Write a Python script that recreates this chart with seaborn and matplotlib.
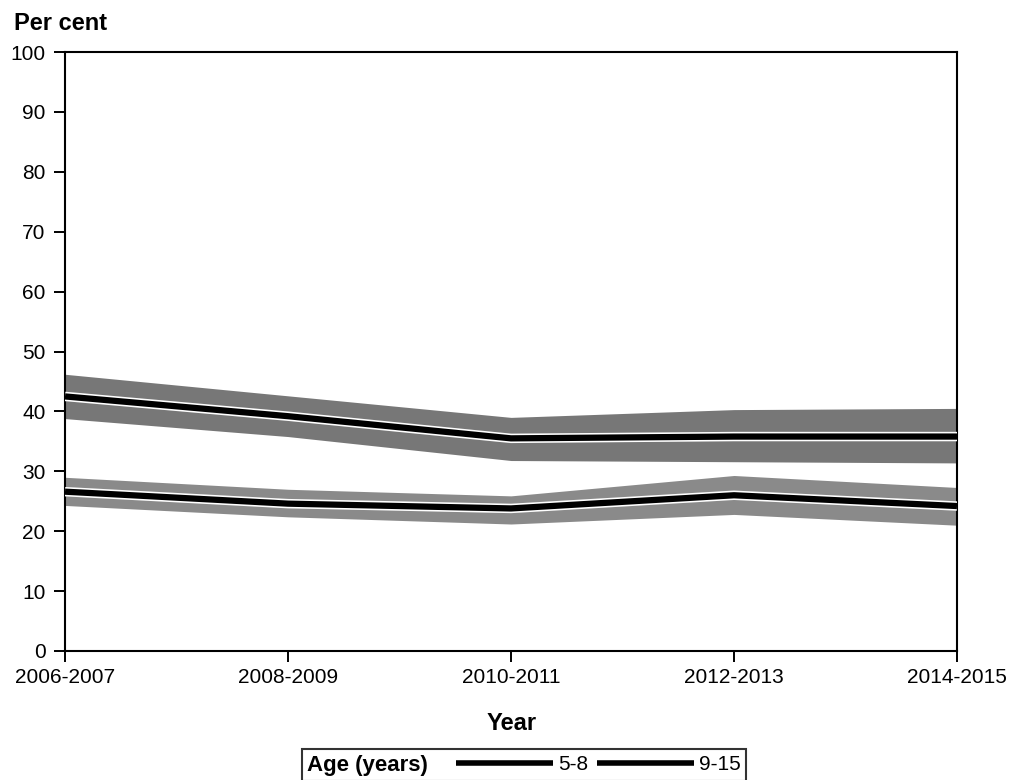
import matplotlib
matplotlib.use("Agg")
import matplotlib.pyplot as plt
import matplotlib.patheffects as pe
from matplotlib.lines import Line2D
from matplotlib.offsetbox import HPacker
import seaborn as sns
import pandas as pd

years = ["2006-2007", "2008-2009", "2010-2011", "2012-2013", "2014-2015"]
age_5_8 = [42.5, 39.2, 35.5, 35.8, 35.8]
age_5_8_low = [38.8, 35.8, 31.8, 31.6, 31.4]
age_5_8_high = [46.2, 42.6, 39.0, 40.3, 40.5]
age_9_15 = [26.6, 24.6, 23.8, 26.0, 24.2]
age_9_15_low = [24.3, 22.4, 21.2, 22.8, 21.0]
age_9_15_high = [29.0, 27.0, 25.9, 29.3, 27.3]
yticks = [0, 10, 20, 30, 40, 50, 60, 70, 80, 90, 100]

sns.set_theme(style="ticks")
plt.rcParams["font.family"] = ["Liberation Sans", "DejaVu Sans"]
plt.rcParams["text.color"] = "black"
plt.rcParams["xtick.color"] = "black"
plt.rcParams["ytick.color"] = "black"
plt.rcParams["xtick.labelcolor"] = "black"
plt.rcParams["ytick.labelcolor"] = "black"

df = pd.DataFrame({
    "x": list(range(len(years))) * 2,
    "value": age_5_8 + age_9_15,
    "Age": ["5-8"] * len(years) + ["9-15"] * len(years),
})

fig = plt.figure(figsize=(10.16, 7.8), dpi=100)
L, R, T, B = 65, 957, 52, 651
ax = fig.add_axes([L / 1016, 1 - B / 780, (R - L) / 1016, (B - T) / 780])

xs = list(range(len(years)))
ax.fill_between(xs, age_5_8_low, age_5_8_high, color="#777777", linewidth=0, zorder=1)
ax.fill_between(xs, age_9_15_low, age_9_15_high, color="#8a8a8a", linewidth=0, zorder=1)

sns.lineplot(data=df, x="x", y="value", hue="Age", palette=["black", "black"],
             ax=ax, legend=False, linewidth=4.5, zorder=3)
for ln in ax.lines:
    ln.set_path_effects([pe.Stroke(linewidth=6.8, foreground="white"), pe.Normal()])
    ln.set_solid_capstyle("butt")

ax.set_xlim(0, len(years) - 1)
ax.set_ylim(0, 100)
ax.set_xticks(xs)
ax.set_xticklabels(years, fontsize=15, color="black")
ax.set_yticks(yticks)
ax.set_yticklabels([str(t) for t in yticks], fontsize=15, color="black")
ax.tick_params(axis="both", direction="out", length=8, width=1.4, color="black")
ax.tick_params(axis="y", pad=6)
ax.tick_params(axis="x", pad=4)
for s in ax.spines.values():
    s.set_color("black")
    s.set_linewidth(1.5)
    s.set_visible(True)

ax.set_xlabel("")
ax.set_ylabel("")
fig.text(512 / 1016, 1 - 723 / 780, "Year", fontsize=17, fontweight="bold",
         ha="center", va="center", color="black")
fig.text(14 / 1016, 1 - 23 / 780, "Per cent", fontsize=17, fontweight="bold",
         ha="left", va="center", color="black")

fs = 15
handles = [Line2D([], [], color="black", linewidth=4.0, solid_capstyle="butt"),
           Line2D([], [], color="black", linewidth=4.0, solid_capstyle="butt")]
leg = fig.legend(handles, ["5-8", "9-15"], ncol=2, title="Age (years)",
                 title_fontproperties={"weight": "bold", "size": 16},
                 fontsize=fs, loc="center right", bbox_to_anchor=(746 / 1016, 1 - 765 / 780),
                 frameon=True, fancybox=False, handlelength=4.65, handletextpad=0.25,
                 columnspacing=0.43, borderpad=0.25, borderaxespad=0,
                 labelcolor="black")
leg.get_title().set_color("black")
leg._legend_box = HPacker(pad=0.25 * fs, sep=28 * 0.72, align="center",
                          children=[leg._legend_title_box, leg._legend_handle_box])
leg._legend_box.set_figure(fig)
leg._legend_box.axes = leg.axes
leg._legend_box.set_offset(leg._findoffset)
fr = leg.get_frame()
fr.set_edgecolor("black")
fr.set_linewidth(1.5)
fr.set_facecolor("white")

fig.savefig("out.png", dpi=100)
